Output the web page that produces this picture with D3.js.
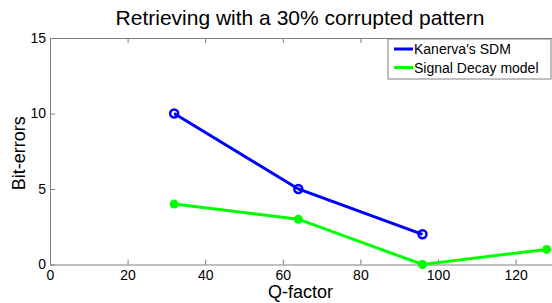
<!DOCTYPE html>
<html>
<head>
<meta charset="utf-8">
<script src="https://cdn.jsdelivr.net/npm/d3@7"></script>
<style>
  body { margin: 0; background: #fff; }
  svg { display: block; font-family: Arial, "Liberation Sans", sans-serif; }
</style>
</head>
<body>
<svg id="chart" width="552" height="303"></svg>
<script>
// data
const sdmQ = [32, 64, 96];
const sdmErrors = [10, 5, 2];
const decayQ = [32, 64, 96, 128];
const decayErrors = [4, 3, 0, 1];
const xTicks = [0, 20, 40, 60, 80, 100, 120];
const yTicks = [0, 5, 10, 15];
const seriesNames = ["Kanerva's SDM", "Signal Decay model"];

const svg = d3.select('#chart');
const margin = { top: 38, left: 50, bottom: 264.5 };
const axisColor = '#808080';

const x = d3.scaleLinear().domain([0, 140]).range([margin.left, margin.left + 140 * 3.88]);
const y = d3.scaleLinear().domain([0, 15]).range([margin.bottom, margin.top]);

// title
svg.append('text')
    .attr('x', 300).attr('y', 24.5)
    .attr('text-anchor', 'middle')
    .attr('font-size', 21)
    .text('Retrieving with a 30% corrupted pattern');

// box axes, ticks pointing inward
const xAxis = svg.append('g').attr('transform', `translate(0,${margin.bottom})`)
    .call(d3.axisBottom(x).tickValues(xTicks).tickSizeInner(-5).tickSizeOuter(0).tickPadding(5.5));
const xTop = svg.append('g').attr('transform', `translate(0,${margin.top})`)
    .call(d3.axisTop(x).tickValues(xTicks).tickSizeInner(-5).tickSizeOuter(0).tickFormat(''));
const yAxis = svg.append('g').attr('transform', `translate(${margin.left},0)`)
    .call(d3.axisLeft(y).tickValues(yTicks).tickSizeInner(-5).tickSizeOuter(0).tickPadding(4));

[xAxis, xTop, yAxis].forEach(g => {
    g.selectAll('path, line').attr('stroke', axisColor);
    g.selectAll('text').attr('font-size', 14).attr('fill', '#000')
        .attr('font-family', 'Arial, "Liberation Sans", sans-serif');
});

// axis labels
svg.append('text')
    .attr('x', 300.5).attr('y', 297.5)
    .attr('text-anchor', 'middle')
    .attr('font-size', 18)
    .text('Q-factor');
svg.append('text')
    .attr('transform', `translate(25,${(margin.top + margin.bottom) / 2 + 2}) rotate(-90)`)
    .attr('text-anchor', 'middle')
    .attr('font-size', 18)
    .text('Bit-errors');

const line = d3.line().x(d => x(d[0])).y(d => y(d[1]));

// Kanerva's SDM - blue open circles
const sdm = sdmQ.map((q, i) => [q, sdmErrors[i]]);
svg.append('path').datum(sdm)
    .attr('d', line).attr('fill', 'none')
    .attr('stroke', '#0000ff').attr('stroke-width', 3);
svg.selectAll('.sdm').data(sdm).enter().append('circle')
    .attr('class', 'sdm')
    .attr('cx', d => x(d[0])).attr('cy', d => y(d[1]))
    .attr('r', 4).attr('fill', 'none')
    .attr('stroke', '#0000ff').attr('stroke-width', 2.5);

// Signal decay model - green filled dots
const decay = decayQ.map((q, i) => [q, decayErrors[i]]);
svg.append('path').datum(decay)
    .attr('d', line).attr('fill', 'none')
    .attr('stroke', '#00ff00').attr('stroke-width', 3);
svg.selectAll('.decay').data(decay).enter().append('circle')
    .attr('class', 'decay')
    .attr('cx', d => x(d[0])).attr('cy', d => y(d[1]))
    .attr('r', 4.5).attr('fill', '#00ff00');

// legend
const legend = svg.append('g').attr('transform', 'translate(388,39)');
legend.append('rect')
    .attr('width', 163).attr('height', 40)
    .attr('fill', '#fff').attr('stroke', axisColor);
const colors = ['#0000ff', '#00ff00'];
seriesNames.forEach((name, i) => {
    const ly = 10 + i * 18.5;
    legend.append('line')
        .attr('x1', 6).attr('x2', 25).attr('y1', ly).attr('y2', ly)
        .attr('stroke', colors[i]).attr('stroke-width', 3);
    legend.append('text')
        .attr('x', 26).attr('y', ly + 5)
        .attr('font-size', 14)
        .text(name);
});
</script>
</body>
</html>
